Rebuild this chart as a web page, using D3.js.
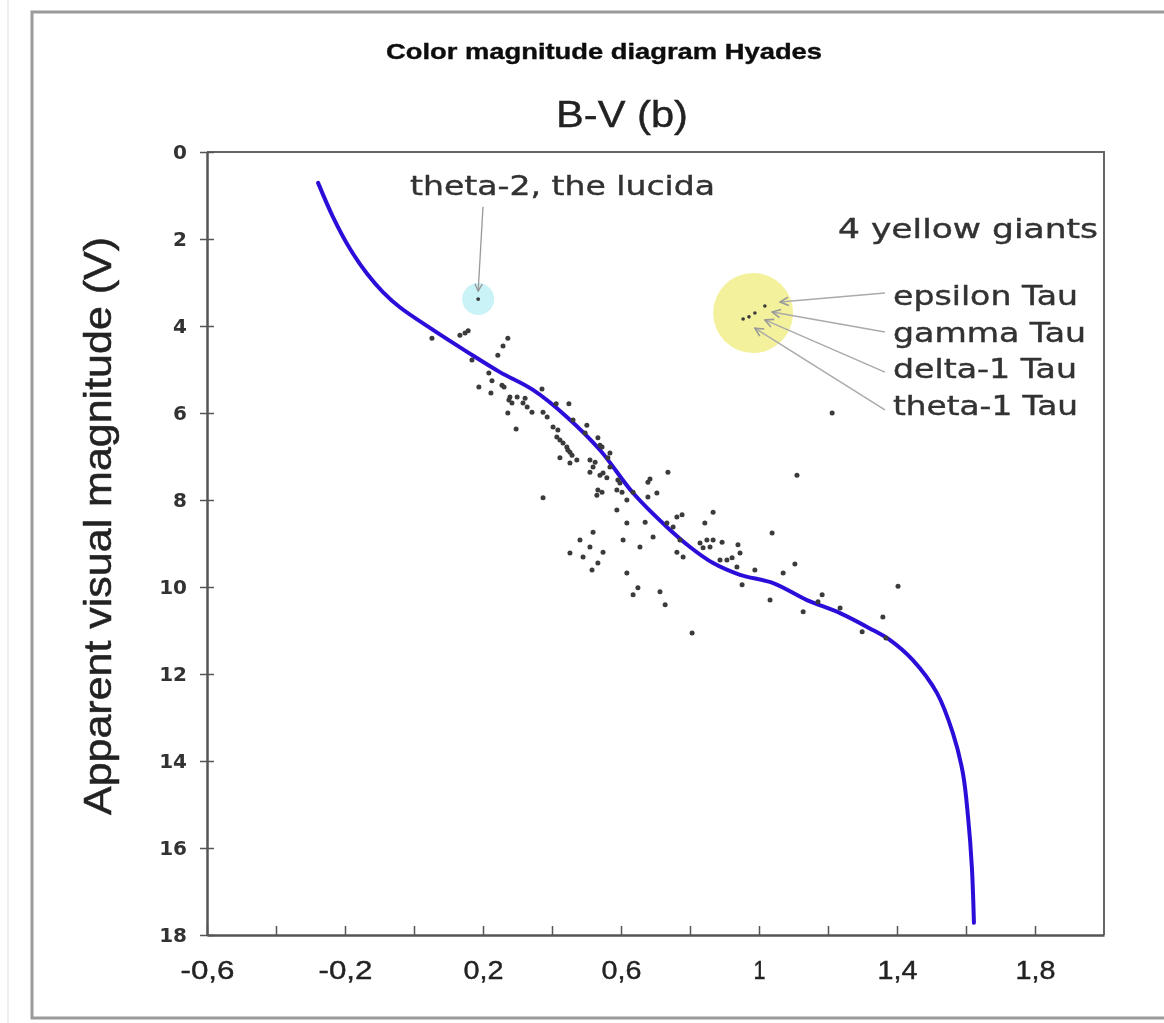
<!DOCTYPE html>
<html>
<head>
<meta charset="utf-8">
<script src="https://cdn.jsdelivr.net/npm/d3@7"></script>
<style>
  html, body { margin: 0; padding: 0; background: #fff; }
  svg { display: block; }
</style>
</head>
<body>
<svg id="chart" width="1164" height="1023"></svg>
<script>
// ---------- data ----------
const chartTitle = "Color magnitude diagram Hyades";
const subTitle = "B-V (b)";
const yAxisTitle = "Apparent visual magnitude (V)";

const xDomain = [-0.6, 2.0];
const yDomain = [0, 18];
const xTickValues = [-0.6,-0.4,-0.2,0,0.2,0.4,0.6,0.8,1.0,1.2,1.4,1.6,1.8];
const xLabelValues = [-0.6,-0.2,0.2,0.6,1.0,1.4,1.8];
const yTickValues = [0,2,4,6,8,10,12,14,16,18];

// main-sequence fit curve (B-V, V)
const curveBV = [-0.278,-0.235,-0.186,-0.136,-0.090,-0.041,0.055,0.155,0.249,0.345,0.443,0.539,0.635,0.733,0.800,0.867,0.945,1.041,1.139,1.235,1.330,1.380,1.446,1.516,1.562,1.591,1.606,1.617,1.623];
const curveV  = [0.71,1.49,2.22,2.80,3.22,3.57,4.09,4.60,5.06,5.47,6.09,6.85,7.84,8.62,9.08,9.45,9.72,9.91,10.30,10.60,10.99,11.22,11.68,12.44,13.36,14.28,15.29,16.44,17.72];

// Hyades members (B-V, V)
const starBV = [0.052,0.133,0.148,0.157,0.168,0.272,0.258,0.243,0.217,0.226,0.188,0.223,0.255,0.261,0.278,0.275,0.299,0.272,0.322,0.316,0.328,0.342,0.284,0.296,0.371,0.374,0.386,0.412,0.449,0.461,0.403,0.417,0.414,0.423,0.432,0.443,0.446,0.452,0.423,0.458,0.452,0.472,0.501,0.496,0.533,0.539,0.545,0.568,0.562,0.510,0.525,0.519,0.568,0.510,0.539,0.548,0.559,0.533,0.545,0.530,0.591,0.597,0.588,0.603,0.617,0.588,0.635,0.678,0.684,0.736,0.678,0.704,0.374,0.617,0.670,0.693,0.733,0.751,0.762,0.777,0.519,0.481,0.510,0.452,0.490,0.548,0.533,0.516,0.606,0.655,0.617,0.649,0.635,0.713,0.728,0.771,0.762,0.780,0.829,0.849,0.867,0.893,0.838,0.858,0.843,0.867,0.887,0.907,0.922,0.939,0.945,0.936,0.951,0.988,1.110,1.038,1.104,1.070,1.032,1.128,1.183,1.171,1.235,1.359,1.403,1.299,1.368,0.806,1.212];
const starV  = [4.28,4.21,4.16,4.11,4.78,4.28,4.46,4.67,5.08,5.26,5.40,5.54,5.36,5.40,5.63,5.70,5.63,6.00,5.66,5.77,5.86,5.98,5.77,6.37,5.45,5.98,6.09,5.79,5.79,6.16,6.32,6.39,6.55,6.62,6.69,6.78,6.85,6.90,7.03,6.97,7.15,7.08,6.28,6.46,6.57,6.74,6.78,6.92,7.03,7.08,7.13,7.24,7.24,7.36,7.43,7.38,7.49,7.77,7.82,7.89,7.54,7.61,7.77,7.82,8.00,8.23,7.82,7.59,7.52,7.36,7.93,7.84,7.95,8.53,8.51,8.85,8.53,8.62,8.39,8.34,8.74,8.92,9.08,9.22,9.31,9.20,9.45,9.61,8.92,9.08,9.68,10.02,10.18,10.11,10.41,8.92,9.20,9.31,8.99,8.92,8.92,8.97,9.10,9.08,8.53,8.28,9.38,9.38,9.33,9.03,9.22,9.54,9.95,9.61,7.43,8.76,9.47,9.68,10.30,10.57,10.18,10.34,10.48,10.69,9.98,11.03,11.17,11.06,6.00];

// theta-2 (the lucida)
const lucidaBV = [0.186];
const lucidaV = [3.38];
const lucidaLabel = "theta-2, the lucida";

// four yellow giants
const giantNames = ["epsilon Tau","gamma Tau","delta-1 Tau","theta-1 Tau"];
const giantBV = [1.017,0.988,0.971,0.954];
const giantV  = [3.54,3.70,3.79,3.84];
const giantsHeading = "4 yellow giants";

// ---------- drawing ----------
const svg = d3.select("#chart");
const x = d3.scaleLinear().domain(xDomain).range([207, 1104]);
const y = d3.scaleLinear().domain(yDomain).range([152, 935]);

const defs = svg.append("defs");
const soft = defs.append("filter").attr("id","soft").attr("x","-20%").attr("y","-20%").attr("width","140%").attr("height","140%");
soft.append("feGaussianBlur").attr("stdDeviation",0.45);

// outer frame
svg.append("line").attr("x1",8).attr("x2",8).attr("y1",0).attr("y2",1023)
  .attr("stroke","#eeeeee").attr("stroke-width",2);
svg.append("rect").attr("x",32).attr("y",12).attr("width",1150).attr("height",1006)
  .attr("fill","none").attr("stroke","#9a9a9a").attr("stroke-width",3);

// titles
svg.append("text").attr("x",604).attr("y",59).attr("text-anchor","middle")
  .attr("font-family","Liberation Sans, Arial, sans-serif").attr("font-weight","bold")
  .attr("font-size",22).attr("fill","#111").attr("stroke","#111").attr("stroke-width",0.4)
  .attr("filter","url(#soft)")
  .attr("textLength",436).attr("lengthAdjust","spacingAndGlyphs").text(chartTitle);
svg.append("text").attr("x",622).attr("y",127).attr("text-anchor","middle")
  .attr("font-family","Liberation Sans, Arial, sans-serif")
  .attr("font-size",37).attr("fill","#222").attr("stroke","#222").attr("stroke-width",0.4)
  .attr("filter","url(#soft)")
  .attr("textLength",132).attr("lengthAdjust","spacingAndGlyphs").text(subTitle);
svg.append("text").attr("transform","translate(111,526) rotate(-90)").attr("text-anchor","middle")
  .attr("font-family","Liberation Sans, Arial, sans-serif")
  .attr("font-size",38).attr("fill","#222").attr("stroke","#222").attr("stroke-width",0.5)
  .attr("filter","url(#soft)")
  .attr("textLength",578).attr("lengthAdjust","spacingAndGlyphs").text(yAxisTitle);

// plot frame (top & right)
svg.append("path")
  .attr("d",`M${x(xDomain[0])},${y(0)}H${x(xDomain[1])}V${y(18)}`)
  .attr("fill","none").attr("stroke","#666").attr("stroke-width",2);

const fmt = d => String(+d.toFixed(1)).replace(".", ",");
const isLabel = d => xLabelValues.some(v => Math.abs(v - d) < 1e-6);
const labelWidth = s => s.length === 1 ? 12 : (s[0] === "-" ? 54 : 40);

// x axis
const gx = svg.append("g").attr("transform",`translate(0,${y(18)})`)
  .call(d3.axisBottom(x).tickValues(xTickValues).tickSizeInner(-9).tickSizeOuter(0)
    .tickPadding(26).tickFormat(d => isLabel(d) ? fmt(d) : ""));
gx.select(".domain").attr("stroke","#555").attr("stroke-width",2.5);
gx.selectAll(".tick line").attr("stroke","#555").attr("stroke-width",1.5);
gx.selectAll(".tick text").attr("font-family","Liberation Sans, Arial, sans-serif")
  .attr("font-size",26).attr("fill","#222").attr("stroke","#222").attr("stroke-width",0.4)
  .attr("filter","url(#soft)")
  .each(function(d){ const s = isLabel(d) ? fmt(d) : ""; if (s) d3.select(this).attr("textLength", labelWidth(s)).attr("lengthAdjust","spacingAndGlyphs"); });

// y axis
const gy = svg.append("g").attr("transform",`translate(${x(xDomain[0])},0)`)
  .call(d3.axisLeft(y).tickValues(yTickValues).tickSizeInner(7).tickSizeOuter(0)
    .tickPadding(13).tickFormat(d => String(d)));
gy.select(".domain").attr("stroke","#555").attr("stroke-width",2.5);
gy.selectAll(".tick line").attr("stroke","#555").attr("stroke-width",1.5).attr("x2",7).attr("x1",-7);
gy.selectAll(".tick text").attr("font-family","DejaVu Sans, Verdana, sans-serif")
  .attr("font-weight","bold").attr("font-size",20).attr("fill","#333").attr("filter","url(#soft)");

// highlight circles
svg.append("circle").attr("cx",x(lucidaBV[0])).attr("cy",y(lucidaV[0])).attr("r",16)
  .attr("fill","#c9f3f7");
svg.append("circle").attr("cx",x(0.983)).attr("cy",y(3.70)).attr("r",40)
  .attr("fill","#f3f19c");

// annotation arrows
defs.append("marker").attr("id","arr").attr("viewBox","0 0 10 10").attr("refX",9).attr("refY",5)
  .attr("markerWidth",7).attr("markerHeight",7).attr("orient","auto")
  .append("path").attr("d","M1,1L9,5L1,9").attr("fill","none").attr("stroke","#999").attr("stroke-width",1.5);

svg.append("line").attr("x1",x(0.200)).attr("y1",y(1.26)).attr("x2",x(0.186)).attr("y2",y(3.20))
  .attr("stroke","#999").attr("stroke-width",1.3).attr("marker-end","url(#arr)");

const arrowStartV = [3.24,4.14,5.06,5.93];
const arrowEndBV = [1.061,1.038,1.017,0.988];
const arrowEndV = [3.45,3.68,3.86,4.05];
giantNames.forEach((n,i) => {
  svg.append("line").attr("x1",x(1.365)).attr("y1",y(arrowStartV[i]))
    .attr("x2",x(arrowEndBV[i])).attr("y2",y(arrowEndV[i]))
    .attr("stroke","#aaa").attr("stroke-width",1.5).attr("marker-end","url(#arr)");
});

// fit curve
const line = d3.line().x(d => x(d[0])).y(d => y(d[1])).curve(d3.curveCatmullRom.alpha(0.5));
svg.append("path").datum(curveBV.map((b,i)=>[b,curveV[i]]))
  .attr("d",line).attr("fill","none").attr("stroke","#2c10d8").attr("stroke-width",4)
  .attr("stroke-linecap","round").attr("filter","url(#soft)");

// stars
svg.append("g").attr("filter","url(#soft)").selectAll("circle").data(starBV.map((b,i)=>[b,starV[i]])).join("circle")
  .attr("cx",d=>x(d[0])).attr("cy",d=>y(d[1])).attr("r",2.5).attr("fill","#3a3a3a");
svg.append("g").selectAll("circle").data(lucidaBV.map((b,i)=>[b,lucidaV[i]])).join("circle")
  .attr("cx",d=>x(d[0])).attr("cy",d=>y(d[1])).attr("r",1.9).attr("fill","#3a3a3a");
svg.append("g").selectAll("circle").data(giantBV.map((b,i)=>[b,giantV[i]])).join("circle")
  .attr("cx",d=>x(d[0])).attr("cy",d=>y(d[1])).attr("r",1.8).attr("fill","#3a3a3a");

// annotation texts
const annFont = "DejaVu Sans, Verdana, sans-serif";
svg.append("text").attr("font-family",annFont)
  .attr("x",410).attr("y",195).attr("font-size",26).attr("fill","#333")
  .attr("stroke","#333").attr("stroke-width",0.4).attr("filter","url(#soft)")
  .attr("textLength",305).attr("lengthAdjust","spacingAndGlyphs").text(lucidaLabel);
svg.append("text").attr("x",838).attr("y",238).attr("font-family",annFont)
  .attr("font-size",26).attr("fill","#333").attr("stroke","#333").attr("stroke-width",0.4)
  .attr("filter","url(#soft)")
  .attr("textLength",260).attr("lengthAdjust","spacingAndGlyphs").text(giantsHeading);
const labelY = [296,333,369,406];
const labelW = [185,193,184,185];
giantNames.forEach((n,i) => {
  svg.append("text").attr("x",893).attr("y",labelY[i]).attr("dy","0.36em")
    .attr("font-family",annFont).attr("font-size",26).attr("fill","#333")
    .attr("stroke","#333").attr("stroke-width",0.4).attr("filter","url(#soft)")
    .attr("textLength",labelW[i]).attr("lengthAdjust","spacingAndGlyphs").text(n);
});
</script>
</body>
</html>
